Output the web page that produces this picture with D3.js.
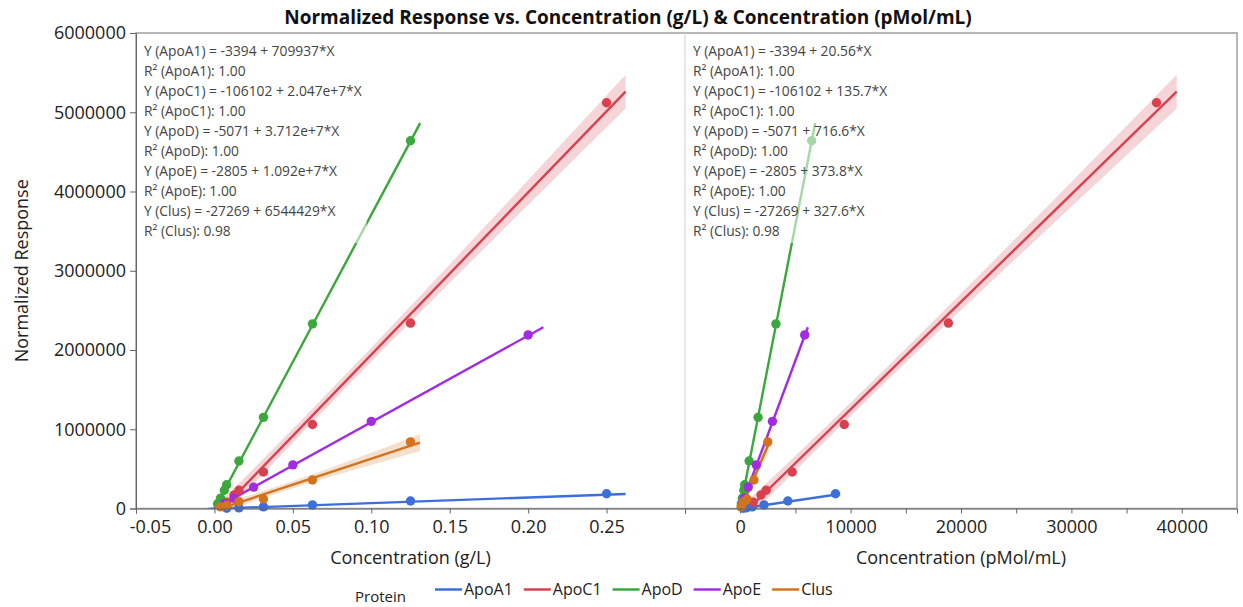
<!DOCTYPE html>
<html><head><meta charset="utf-8">
<script src="https://cdn.jsdelivr.net/npm/d3@7"></script>
<style>
body{margin:0;background:#fff;}
text{font-family:"Open Sans","Noto Sans",sans-serif;}
</style></head><body>
<svg id="chart" width="1243" height="607"></svg>
<script>
// ---------- DATA ----------
const proteins = ["ApoA1","ApoC1","ApoD","ApoE","Clus"];
const colors = ["#3d6fdb","#d8414f","#3aa83c","#a22ce0","#d2731f"];
const molWeights = [28960, 6629, 19305, 34232, 50058]; // g/mol, used for g/L -> pMol/mL

const concApoA1 = [0.25, 0.125, 0.0625, 0.03125, 0.0156, 0.0078];
const respApoA1 = [186000, 94000, 45000, 20000, 8000, 3000];
const concApoC1 = [0.25, 0.125, 0.0625, 0.03125, 0.0156, 0.0125, 0.0078];
const respApoC1 = [5120000, 2340000, 1060000, 460000, 230000, 170000, 80000];
const concApoD = [0.125, 0.0625, 0.03125, 0.0156, 0.0078, 0.0063, 0.0039, 0.002];
const respApoD = [4640000, 2330000, 1150000, 600000, 300000, 230000, 130000, 60000];
const concApoE = [0.2, 0.1, 0.05, 0.025, 0.0125, 0.00625];
const respApoE = [2190000, 1100000, 550000, 270000, 130000, 60000];
const concClus = [0.125, 0.0625, 0.03125, 0.0156, 0.0078, 0.0039];
const respClus = [840000, 360000, 120000, 85000, 40000, 20000];

const intercepts = [-3394, -106102, -5071, -2805, -27269];
const slopesGL = [709937, 2.047e7, 3.712e7, 1.092e7, 6544429];
const slopesPM = [20.56, 135.7, 716.6, 373.8, 327.6];
const slopeLabelsGL = ["709937", "2.047e+7", "3.712e+7", "1.092e+7", "6544429"];
const slopeLabelsPM = ["20.56", "135.7", "716.6", "373.8", "327.6"];
const r2Labels = ["1.00", "1.00", "1.00", "1.00", "0.98"];

const yTicks = [0, 1000000, 2000000, 3000000, 4000000, 5000000, 6000000];
const xTicksL = [-0.05, 0, 0.05, 0.1, 0.15, 0.2, 0.25];
const xTickLabelsL = ["-0.05", "0.00", "0.05", "0.10", "0.15", "0.20", "0.25"];
const xTicksR = [-5000, 0, 5000, 10000, 15000, 20000, 25000, 30000, 35000, 40000];
const xTickLabelsR = ["", "0", "", "10000", "", "20000", "", "30000", "", "40000"];

const titleText = "Normalized Response vs. Concentration (g/L) & Concentration (pMol/mL)";
// ---------------------------

const concs = [concApoA1, concApoC1, concApoD, concApoE, concClus];
const resps = [respApoA1, respApoC1, respApoD, respApoE, respClus];

const svg = d3.select("#chart");
const pTop = 33, pBottom = 508.5, pLeft = 136, pMid = 685, pRight = 1237;

const xL = d3.scaleLinear([-0.05, 0.30], [pLeft, pMid]);
const xR = d3.scaleLinear([-5000, 45000], [pMid, pRight]);
const y = d3.scaleLinear([0, 6000000], [pBottom, pTop]);

const defs = svg.append("defs");
defs.append("clipPath").attr("id","clipL").append("rect")
  .attr("x", pLeft).attr("y", pTop).attr("width", pMid-pLeft).attr("height", pBottom-pTop);
defs.append("clipPath").attr("id","clipR").append("rect")
  .attr("x", pMid).attr("y", pTop).attr("width", pRight-pMid).attr("height", pBottom-pTop);

// frame
svg.append("rect").attr("x", pLeft).attr("y", pTop).attr("width", pRight-pLeft).attr("height", pBottom-pTop)
  .attr("fill","none").attr("stroke","#a0a0a0").attr("stroke-width",1.5);
svg.append("line").attr("x1", pMid).attr("x2", pMid).attr("y1", pTop).attr("y2", pBottom)
  .attr("stroke","#cfcfcf").attr("stroke-width",1);

const tTable = [0, 12.706, 4.303, 3.182, 2.776, 2.571, 2.447, 2.365, 2.306, 2.262, 2.228];

function drawPanel(xs, clipId, useRight) {
  const g = svg.append("g").attr("clip-path", `url(#${clipId})`);
  const gp = svg.append("g");
  proteins.forEach((p, i) => {
    const cx = useRight ? concs[i].map(c => c * 1e9 / molWeights[i]) : concs[i];
    const ys = resps[i];
    const a = intercepts[i], b = useRight ? slopesPM[i] : slopesGL[i];
    const n = cx.length;
    const xbar = d3.mean(cx), ybar = d3.mean(ys);
    const Sxx = d3.sum(cx, v => (v - xbar) ** 2);
    const Sxy = d3.sum(cx, (v, k) => (v - xbar) * (ys[k] - ybar));
    const bLS = Sxy / Sxx, aLS = ybar - bLS * xbar;
    const sse = d3.sum(cx, (v, k) => (ys[k] - (aLS + bLS * v)) ** 2);
    const s = Math.sqrt(sse / (n - 2));
    const t = tTable[Math.min(n - 2, 10)];
    const xmin = d3.min(cx), xmax = d3.max(cx), pad = 0.05 * (xmax - xmin);
    const x0 = xmin - pad, x1 = xmax + pad;
    const samples = d3.range(61).map(k => x0 + (x1 - x0) * k / 60);
    const half = v => t * s * Math.sqrt(1 / n + (v - xbar) ** 2 / Sxx);
    g.append("path")
      .attr("d", d3.area().x(v => xs(v)).y0(v => y(a + b * v - half(v))).y1(v => y(a + b * v + half(v)))(samples))
      .attr("fill", colors[i]).attr("fill-opacity", 0.22);
    g.append("path")
      .attr("d", d3.line().x(v => xs(v)).y(v => y(a + b * v))([x0, x1]))
      .attr("stroke", colors[i]).attr("stroke-width", 2.4).attr("fill", "none");
    gp.selectAll(null).data(cx).join("circle")
      .attr("cx", v => xs(v)).attr("cy", (v, k) => y(ys[k])).attr("r", 4.7)
      .attr("fill", colors[i]);
  });
}
drawPanel(xL, "clipL", false);
drawPanel(xR, "clipR", true);

// annotation boxes
function annot(x0, slopeLabels) {
  const g = svg.append("g");
  const lines = [];
  proteins.forEach((p, i) => {
    lines.push(`Y (${p}) = ${intercepts[i]} + ${slopeLabels[i]}*X`);
    lines.push(`R² (${p}): ${r2Labels[i]}`);
  });
  const bg = g.append("rect");
  const tg = g.append("g");
  tg.selectAll("text").data(lines).join("text")
    .attr("x", x0 + 8).attr("y", (d, k) => 56 + k * 20)
    .attr("font-size", 13.8).attr("fill", "#444").text(d => d);
  const bb = tg.node().getBBox();
  bg.attr("x", x0 + 1).attr("y", pTop + 1).attr("width", bb.x + bb.width + 4 - x0)
    .attr("height", 242 - pTop).attr("fill", "#fff").attr("fill-opacity", 0.55);
}
annot(pLeft, slopeLabelsGL);
annot(pMid, slopeLabelsPM);

// axes
const axStyle = g => {
  g.selectAll(".domain").attr("stroke", "#666");
  g.selectAll(".tick line").attr("stroke", "#666");
  g.selectAll("text").attr("fill", "#222").attr("font-size", 18).attr("font-family", '"Open Sans","Noto Sans",sans-serif');
};
svg.append("g").attr("transform", `translate(${pLeft},0)`)
  .call(d3.axisLeft(y).tickValues(yTicks).tickFormat(d3.format("d")).tickSizeOuter(0).tickSize(6).tickPadding(4))
  .call(axStyle);
const axL = svg.append("g").attr("transform", `translate(0,${pBottom})`)
  .call(d3.axisBottom(xL).tickValues(xTicksL).tickFormat((d, k) => xTickLabelsL[k]).tickSizeOuter(0).tickSize(5).tickPadding(7))
  .call(axStyle);
axL.selectAll(".tick text").filter((d, k) => k === 0).attr("dx", 14);
svg.append("g").attr("transform", `translate(0,${pBottom})`)
  .call(d3.axisBottom(xR).tickValues(xTicksR).tickFormat((d, k) => xTickLabelsR[k]).tickSizeOuter(0).tickSize(5).tickPadding(7))
  .call(axStyle);

// titles
svg.append("text").attr("x", 628).attr("y", 24).attr("text-anchor", "middle")
  .attr("font-size", 19).attr("font-weight", "bold").attr("fill", "#111").text(titleText);
svg.append("text").attr("transform", `translate(28,${(pTop+pBottom)/2}) rotate(-90)`).attr("text-anchor", "middle")
  .attr("font-size", 18).attr("fill", "#222").text("Normalized Response");
svg.append("text").attr("x", (pLeft+pMid)/2).attr("y", 564).attr("text-anchor", "middle")
  .attr("font-size", 18).attr("fill", "#222").text("Concentration (g/L)");
svg.append("text").attr("x", (pMid+pRight)/2).attr("y", 564).attr("text-anchor", "middle")
  .attr("font-size", 18).attr("fill", "#222").text("Concentration (pMol/mL)");

// legend
svg.append("text").attr("x", 355).attr("y", 602).attr("font-size", 15).attr("fill", "#222").text("Protein");
let lx = 435;
proteins.forEach((p, i) => {
  svg.append("line").attr("x1", lx).attr("x2", lx + 27).attr("y1", 589.5).attr("y2", 589.5)
    .attr("stroke", colors[i]).attr("stroke-width", 2.5);
  const t = svg.append("text").attr("x", lx + 29).attr("y", 595).attr("font-size", 16).attr("fill", "#222").text(p);
  lx += 29 + t.node().getComputedTextLength() + 11;
});
</script>
</body></html>
